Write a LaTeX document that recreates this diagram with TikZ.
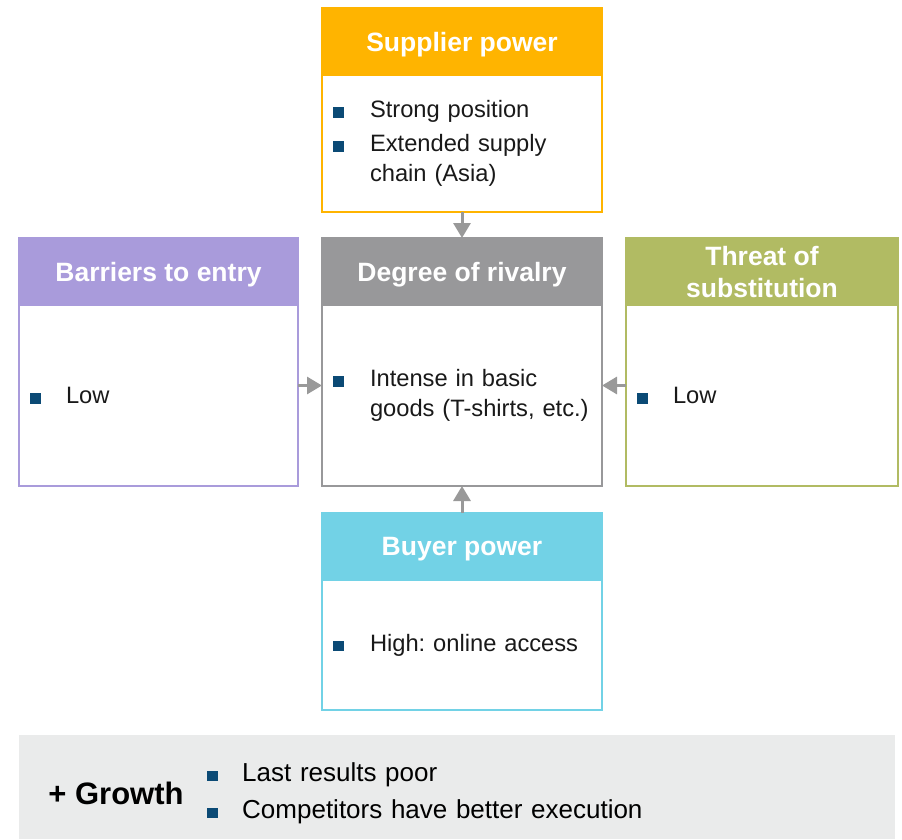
\documentclass[tikz,border=0pt]{standalone}
\usepackage{fontspec}
\setmainfont{Liberation Sans}
\usetikzlibrary{positioning,arrows.meta}
\frenchspacing

\definecolor{supcol}{HTML}{FFB400}
\definecolor{barcol}{HTML}{A99BDB}
\definecolor{rivcol}{HTML}{98989A}
\definecolor{thrcol}{HTML}{B1BB63}
\definecolor{buycol}{HTML}{72D2E6}
\definecolor{bulcol}{HTML}{0B4A75}
\definecolor{growcol}{HTML}{EAEBEB}
\definecolor{arrcol}{HTML}{999999}

\newcommand{\sq}{\textcolor{bulcol}{\rule{10.5pt}{10.5pt}}}
\newcommand{\itm}[2][37pt]{\makebox[#1][l]{\sq}#2}
\newcommand{\cont}[1][37pt]{\hspace*{#1}}

\begin{document}
\begin{tikzpicture}[
    x=1pt, y=-1pt,
    head/.style={fill=#1, draw=#1, line width=2pt, minimum height=67pt,
                 inner sep=0pt, outer sep=0pt, align=center, text=white,
                 text depth=0pt, font=\bfseries\fontsize{26.5}{32}\selectfont},
    body/.style={draw=#1, line width=2pt, inner xsep=11pt, inner ysep=0pt,
                 outer sep=0pt, align=left, text=black!90,
                 font=\fontsize{23.7}{30}\selectfont},
    arrow/.style={-{Triangle[width=17pt,length=15pt]}, line width=3pt, arrcol}
]
\useasboundingbox (0,0) rectangle (902,839);

% five forces
\node[head=supcol, minimum width=280pt] (suphead) at (462,41.5) {Supplier power};
\node[body=supcol, text width=258pt, minimum height=137pt, below=0pt of suphead] (supbody)
     {\itm{Strong position}\\[4pt]\itm{Extended supply}\\\cont chain (Asia)};

\node[head=barcol, minimum width=279pt] (barhead) at (158.5,271.5) {Barriers to entry};
\node[body=barcol, text width=257pt, minimum height=181pt, below=0pt of barhead] (barbody)
     {\itm[36pt]{Low}};

\node[head=rivcol, minimum width=280pt] (rivhead) at (462,271.5) {Degree of rivalry};
\node[body=rivcol, text width=258pt, minimum height=181pt, below=0pt of rivhead] (rivbody)
     {\itm{Intense in basic}\\\cont goods (T-shirts, etc.)};

\node[head=thrcol, minimum width=272pt] (thrhead) at (762,271.5) {Threat of\\substitution};
\node[body=thrcol, text width=250pt, minimum height=181pt, below=0pt of thrhead] (thrbody)
     {\itm[36pt]{Low}};

\node[head=buycol, minimum width=280pt] (buyhead) at (462,546.5) {Buyer power};
\node[body=buycol, text width=258pt, minimum height=130pt, below=0pt of buyhead] (buybody)
     {\itm{High: online access}};

\draw[arrow] (supbody) -- (rivhead);
\draw[arrow] ([yshift=10pt]barbody.east) -- ([yshift=10pt]rivbody.west);
\draw[arrow] ([yshift=10pt]thrbody.west) -- ([yshift=10pt]rivbody.east);
\draw[arrow] (buyhead) -- (rivbody);

% growth
\node[fill=growcol, minimum width=876pt, minimum height=104pt, inner sep=0pt,
      anchor=north west] (growbox) at (19,735) {};
\node[font=\bfseries\fontsize{31}{36}\selectfont] (grow) at (116,793) {+ Growth};
\node[anchor=west, text width=500pt, inner sep=0pt, align=left,
      font=\fontsize{26}{37}\selectfont] (growlist) at (207,793)
     {\itm[35pt]{Last results poor}\\\itm[35pt]{Competitors have better execution}};
\end{tikzpicture}
\end{document}
